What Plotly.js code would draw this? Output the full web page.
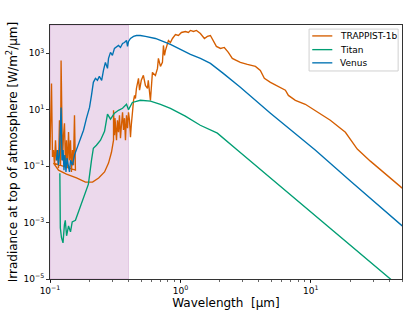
<!DOCTYPE html>
<html>
<head>
<meta charset="utf-8">
<script src="https://cdn.plot.ly/plotly-3.0.1.min.js"></script>
<style>
  html, body { margin: 0; padding: 0; background: #ffffff; }
  #chart { width: 415px; height: 311px; }
</style>
</head>
<body>
<div id="chart"></div>
<script>
// ---- Data (wavelength in µm, irradiance in W/m²/µm) ----
// TRAPPIST-1b (drawn in data order, including the UV segment and model arc)
const trappistWave = [
  0.100, 0.1018, 0.1027, 0.1036, 0.1045, 0.1064, 0.1083, 0.1102, 0.1121, 0.1141,
  0.1162, 0.1182, 0.1204, 0.1216, 0.1229, 0.1247, 0.1269, 0.1291, 0.1314, 0.1337,
  0.136, 0.1387, 0.1411, 0.1436, 0.146, 0.1487, 0.1513, 0.1541, 0.1567,
  0.1064, 0.1162, 0.1337, 0.1596, 0.187, 0.212, 0.236, 0.262, 0.281, 0.296, 0.307,
  0.307, 0.312, 0.315, 0.3236, 0.329, 0.335, 0.341, 0.347, 0.353, 0.36,
  0.366, 0.3725, 0.379, 0.386, 0.393, 0.40, 0.407, 0.414, 0.42, 0.429,
  0.437, 0.445, 0.452, 0.46, 0.477, 0.486, 0.493, 0.501, 0.520, 0.539,
  0.559, 0.567, 0.589, 0.598, 0.610, 0.643, 0.667, 0.678, 0.703, 0.728,
  0.741, 0.755, 0.768, 0.809, 0.838, 0.869, 0.916, 0.966, 1.018, 1.092,
  1.151, 1.193, 1.259, 1.327, 1.423, 1.527, 1.61, 1.698, 1.79, 1.887,
  2.03, 2.17, 2.33, 2.50, 2.68, 2.88, 3.26, 3.76, 4.10, 4.40,
  4.90, 5.64, 6.38, 6.73, 7.61, 9.07, 10.8, 12.2, 14.1, 18.4,
  22.7, 28.6, 37.2, 50.2
];
const trappistIrr = [
  0.37, 4.2, 85, 4.2, 0.21, 0.37, 0.108, 0.83, 0.16, 0.37,
  0.085, 4.2, 0.108, 557, 7.5, 0.16, 1.24, 3.3, 0.108, 0.83,
  0.085, 1.6, 0.16, 0.83, 0.062, 0.37, 0.108, 6.3, 0.072,
  0.128, 0.072, 0.052, 0.038, 0.027, 0.027, 0.038, 0.062, 0.128, 0.31, 0.83,
  9.5, 1.24, 5.0, 0.83, 4.2, 1.6, 6.3, 0.98, 2.8, 8.1,
  1.9, 5.0, 0.83, 6.3, 2.2, 8.1, 4.2, 1.06, 2.8, 9.5,
  21, 32, 25, 57, 129, 49, 72, 110, 164, 72,
  57, 110, 21, 72, 209, 164, 290, 655, 342, 473,
  1890, 836, 1256, 2830, 2400, 3330, 4610, 4250, 5430, 5890,
  5430, 6400, 5890, 6400, 5010, 3330, 3930, 4250, 2830, 1740,
  1480, 1600, 1070, 655, 557, 473, 402, 342, 247, 129,
  93, 67, 49, 32, 21.5, 15.5, 9.5, 6.3, 4.2, 1.58,
  0.40, 0.15, 0.052, 0.0166
];

// Titan
const titanWave = [
  0.119, 0.120, 0.1225, 0.1258, 0.129, 0.131, 0.134, 0.1387, 0.1436, 0.148,
  0.1567, 0.165, 0.174, 0.187, 0.197, 0.208, 0.215, 0.227, 0.244, 0.262,
  0.276, 0.291, 0.312, 0.335, 0.36, 0.386, 0.40, 0.428, 0.493, 0.589,
  0.703, 0.838, 1.09, 1.42, 1.92, 2.73, 4.90, 10.1, 20.1, 40.6, 50.0
];
const titanIrr = [
  0.056, 6.4e-4, 2.9e-4, 1.9e-4, 8.3e-4, 1.2e-3, 3.4e-4, 7.6e-4, 4.7e-4, 1.05e-3,
  1.2e-3, 2.3e-3, 5.3e-3, 0.012, 0.023, 0.16, 0.43, 0.55, 0.83, 1.7,
  6.9, 4.6, 7.5, 9.5, 11.2, 15.5, 10, 18, 21.5, 20,
  15.5, 11.2, 5.9, 2.8, 1.47, 0.37, 0.038, 2.3e-3, 1.5e-4, 1.0e-5, 4.5e-6
];

// Venus
const venusWave = [
  0.112, 0.114, 0.116, 0.118, 0.1216, 0.1236, 0.126, 0.128, 0.130, 0.1326,
  0.135, 0.1387, 0.141, 0.1436, 0.1487, 0.1541, 0.1596, 0.1714, 0.1807, 0.1905,
  0.201, 0.208, 0.215, 0.223, 0.231, 0.239, 0.249, 0.257, 0.266, 0.276,
  0.281, 0.291, 0.301, 0.312, 0.3236, 0.335, 0.347, 0.36, 0.3725, 0.386,
  0.393, 0.40, 0.414, 0.437, 0.46, 0.493, 0.539, 0.589, 0.643, 0.703,
  0.838, 1.00, 1.193, 1.423, 1.698, 2.13, 2.88, 4.90, 10.8, 20.1, 50.2
];
const venusIrr = [
  0.16, 0.37, 0.108, 0.245, 12, 0.16, 0.37, 0.072, 0.245, 0.062,
  0.19, 0.085, 0.062, 0.16, 0.108, 0.245, 0.37, 0.98, 1.86, 5.0,
  12, 32, 93, 129, 110, 151, 110, 247, 473, 290,
  655, 1070, 836, 1480, 1740, 1890, 1600, 2220, 2400, 2830,
  1740, 2610, 3330, 3930, 4250, 4250, 3930, 3610, 3330, 2830,
  2050, 1360, 908, 655, 436, 193, 62, 7.5, 0.37, 0.0295, 7.6e-4
];

const seriesNames = ['TRAPPIST-1b', 'Titan', 'Venus'];
const seriesColors = ['#D55E00', '#009E73', '#0072B2'];
const shadedBand = [0.1, 0.4];          // µm, shaded UV region
const xRange = [0.1, 50];
const yRange = [1e-5, 1e4];
const xTickVals = [0.1, 1, 10];
const xTickText = ['10<sup>−1</sup>', '10<sup>0</sup>', '10<sup>1</sup>'];
const yTickVals = [1e-5, 1e-3, 1e-1, 1e1, 1e3];
const yTickText = ['10<sup>−5</sup>', '10<sup>−3</sup>', '10<sup>−1</sup>', '10<sup>1</sup>', '10<sup>3</sup>'];

const font = 'DejaVu Sans, Liberation Sans, sans-serif';

const traces = [
  {x: trappistWave, y: trappistIrr},
  {x: titanWave, y: titanIrr},
  {x: venusWave, y: venusIrr}
].map((t, i) => Object.assign(t, {
  type: 'scatter', mode: 'lines', name: seriesNames[i],
  line: {color: seriesColors[i], width: 1.35},
  hoverinfo: 'skip', showlegend: false
}));

const axisCommon = {
  type: 'log',
  showgrid: false,
  zeroline: false,
  showline: true,
  linecolor: '#000000',
  linewidth: 0.8,
  mirror: true,
  ticks: 'outside',
  ticklen: 3.2,
  tickwidth: 0.8,
  tickcolor: '#000000',
  tickmode: 'array',
  tickfont: {family: font, size: 9, color: '#000000'},
  automargin: false
};

// ---- Legend (matplotlib style, drawn in paper coordinates) ----
const leg = {x0: 0.736, x1: 0.989, y0: 0.819, y1: 0.984, lineX0: 0.745, lineX1: 0.802, textX: 0.818, rowY: [0.957, 0.903, 0.851]};
const legendShapes = [{
  type: 'rect', xref: 'paper', yref: 'paper',
  x0: leg.x0, x1: leg.x1, y0: leg.y0, y1: leg.y1,
  fillcolor: 'rgba(255,255,255,0.85)', line: {color: '#d0d0d0', width: 1}, layer: 'above'
}].concat(seriesNames.map((n, i) => ({
  type: 'line', xref: 'paper', yref: 'paper',
  x0: leg.lineX0, x1: leg.lineX1, y0: leg.rowY[i], y1: leg.rowY[i],
  line: {color: seriesColors[i], width: 1.35}, layer: 'above'
})));
const legendAnnotations = seriesNames.map((n, i) => ({
  xref: 'paper', yref: 'paper', x: leg.textX, y: leg.rowY[i],
  xanchor: 'left', yanchor: 'middle', showarrow: false, text: n,
  font: {family: font, size: 9, color: '#000000'}
}));

const layout = {
  width: 415, height: 311,
  margin: {l: 50, r: 13, t: 25, b: 32, pad: 0},
  paper_bgcolor: '#ffffff',
  plot_bgcolor: '#ffffff',
  showlegend: false,
  font: {family: font, color: '#000000'},
  xaxis: Object.assign({}, axisCommon, {
    range: [Math.log10(xRange[0]), Math.log10(xRange[1])],
    tickvals: xTickVals, ticktext: xTickText,
    minor: {ticks: 'outside', ticklen: 1.8, tickwidth: 0.6, tickcolor: '#000000', dtick: 'D1', showgrid: false},
    title: {text: 'Wavelength  [µm]', font: {family: font, size: 12, color: '#000000'}, standoff: 3}
  }),
  yaxis: Object.assign({}, axisCommon, {
    range: [Math.log10(yRange[0]), Math.log10(yRange[1])],
    tickvals: yTickVals, ticktext: yTickText,
    title: {text: 'Irradiance at top of atmosphere [W/m<sup>2</sup>/µm]', font: {family: font, size: 12, color: '#000000'}, standoff: 3}
  }),
  shapes: [{
    type: 'rect', xref: 'x', yref: 'paper',
    x0: shadedBand[0], x1: shadedBand[1], y0: 0, y1: 1,
    fillcolor: 'rgba(128,0,128,0.15)',
    line: {color: 'rgba(128,0,128,0.15)', width: 1},
    layer: 'below'
  }].concat(legendShapes),
  annotations: legendAnnotations
};

Plotly.newPlot('chart', traces, layout, {staticPlot: true, displayModeBar: false});
</script>
</body>
</html>
